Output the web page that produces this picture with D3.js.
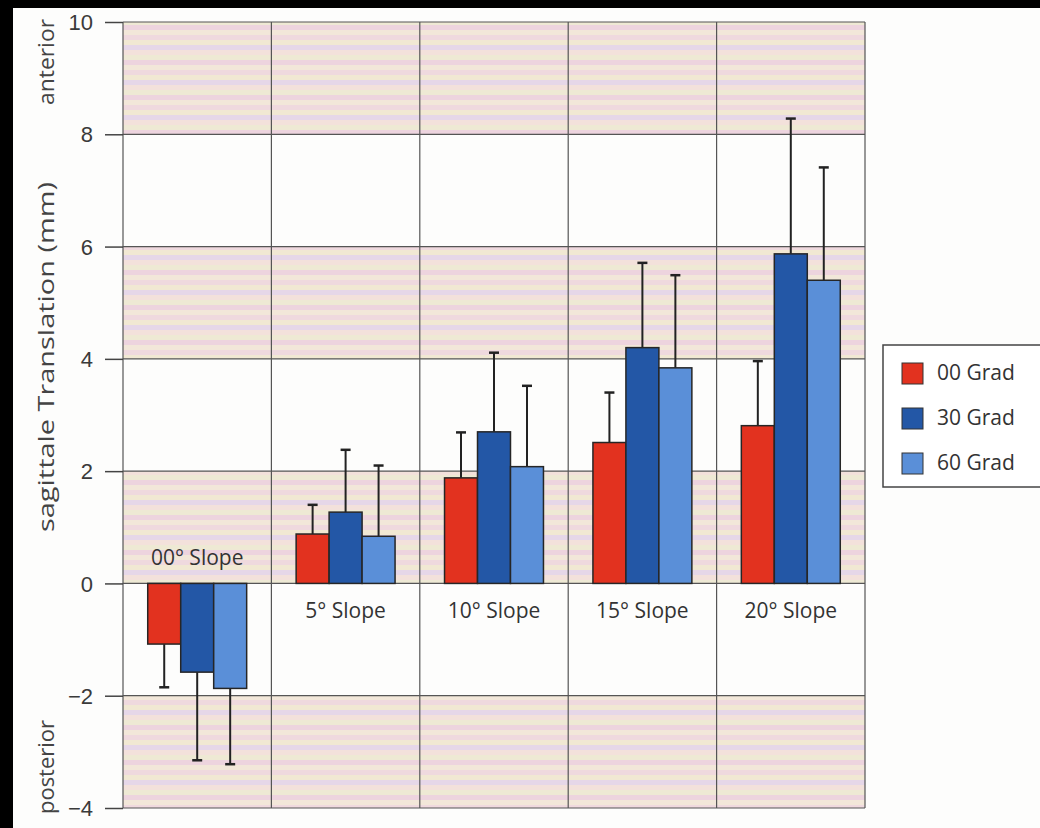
<!DOCTYPE html>
<html>
<head>
<meta charset="utf-8">
<script src="https://cdn.jsdelivr.net/npm/d3@7"></script>
<style>
  body { margin: 0; background: #000; }
  svg { display: block; font-family: "Open Sans", "Noto Sans", sans-serif; }
</style>
</head>
<body>
<svg id="chart" width="1040" height="828"></svg>
<script>
const categories = ["00° Slope", "5° Slope", "10° Slope", "15° Slope", "20° Slope"];
const series = ["00 Grad", "30 Grad", "60 Grad"];
const means = [
  [-1.08, 0.88, 1.88, 2.51, 2.81],
  [-1.58, 1.27, 2.70, 4.20, 5.87],
  [-1.87, 0.84, 2.08, 3.84, 5.40]
];
const errTops = [
  [-1.85, 1.40, 2.69, 3.40, 3.96],
  [-3.15, 2.38, 4.11, 5.71, 8.28],
  [-3.22, 2.10, 3.52, 5.49, 7.41]
];
const yTicks = [-4, -2, 0, 2, 4, 6, 8, 10];
const stripedBands = [[8, 10], [4, 6], [0, 2], [-4, -2]];
const colors = ["#e2321f", "#2357a6", "#5a8fd8"];

const margin = {top: 22, right: 175, bottom: 20, left: 123};
const width = 1040, height = 828;

const svg = d3.select("#chart");

// scanned page: black edge on the top and left
svg.append("rect").attr("width", width).attr("height", height).attr("fill", "#000");
svg.append("rect").attr("x", 13).attr("y", 8).attr("width", width - 13).attr("height", height - 8).attr("fill", "#fdfdfc");

const x0 = d3.scaleBand()
    .domain(categories)
    .range([margin.left, width - margin.right]);
const bw = x0.bandwidth();
const x1 = d3.scaleBand()
    .domain(series)
    .range([bw / 6, bw * 5 / 6]);
const y = d3.scaleLinear()
    .domain([-4, 10])
    .range([808, margin.top]);

// stripe pattern for the shaded bands
const stripeColors = ["#efd9de", "#f1e8d3", "#e6d7e8", "#f3e1db", "#eee9d4", "#edd4de", "#f2e7d9"];
const pat = svg.append("defs").append("pattern")
    .attr("id", "stripes")
    .attr("patternUnits", "userSpaceOnUse")
    .attr("width", 40)
    .attr("height", stripeColors.length * 5);
pat.selectAll("rect").data(stripeColors).enter().append("rect")
    .attr("x", 0).attr("y", (d, i) => i * 5)
    .attr("width", 40).attr("height", 5)
    .attr("fill", d => d);

const plotL = x0.range()[0], plotR = x0.range()[1];

svg.append("g").selectAll("rect")
    .data(stripedBands)
  .enter().append("rect")
    .attr("x", plotL)
    .attr("y", d => y(d[1]))
    .attr("width", plotR - plotL)
    .attr("height", d => y(d[0]) - y(d[1]))
    .attr("fill", "url(#stripes)");

// horizontal grid
svg.append("g").selectAll("line")
    .data(yTicks)
  .enter().append("line")
    .attr("x1", plotL).attr("x2", plotR)
    .attr("y1", d => y(d)).attr("y2", d => y(d))
    .attr("stroke", "#555").attr("stroke-width", 1.2);

// vertical grid
svg.append("g").selectAll("line")
    .data(categories.concat(["end"]))
  .enter().append("line")
    .attr("x1", (d, i) => i < categories.length ? x0(d) : plotR)
    .attr("x2", (d, i) => i < categories.length ? x0(d) : plotR)
    .attr("y1", y(10)).attr("y2", y(-4))
    .attr("stroke", "#555").attr("stroke-width", 1.2);

// y axis
const yAxis = d3.axisLeft(y).tickValues(yTicks).tickSize(18).tickPadding(12)
    .tickFormat(d => d < 0 ? "\u2212" + Math.abs(d) : d);
svg.append("g")
    .attr("transform", `translate(${plotL},0)`)
    .call(yAxis)
    .call(g => g.select(".domain").remove())
    .call(g => g.selectAll(".tick line").attr("stroke", "#444").attr("stroke-width", 1.5))
    .call(g => g.selectAll(".tick text").attr("fill", "#3a3a3a").style("font-size", "22px").attr("dy", "0.35em"));

// bars
const groups = svg.append("g").selectAll("g")
    .data(categories)
  .enter().append("g")
    .attr("transform", d => `translate(${x0(d)},0)`);

groups.selectAll("line.err")
    .data((d, ci) => series.map((s, si) => ({s, si, m: means[si][ci], e: errTops[si][ci]})))
  .enter().append("line")
    .attr("class", "err")
    .attr("x1", d => x1(d.s) + x1.bandwidth() / 2)
    .attr("x2", d => x1(d.s) + x1.bandwidth() / 2)
    .attr("y1", d => y(d.m)).attr("y2", d => y(d.e))
    .attr("stroke", "#222").attr("stroke-width", 2);

groups.selectAll("line.cap")
    .data((d, ci) => series.map((s, si) => ({s, si, e: errTops[si][ci]})))
  .enter().append("line")
    .attr("class", "cap")
    .attr("x1", d => x1(d.s) + x1.bandwidth() / 2 - 5)
    .attr("x2", d => x1(d.s) + x1.bandwidth() / 2 + 5)
    .attr("y1", d => y(d.e)).attr("y2", d => y(d.e))
    .attr("stroke", "#222").attr("stroke-width", 2.5);

groups.selectAll("rect")
    .data((d, ci) => series.map((s, si) => ({s, si, v: means[si][ci]})))
  .enter().append("rect")
    .attr("x", d => x1(d.s))
    .attr("y", d => y(Math.max(0, d.v)))
    .attr("width", x1.bandwidth())
    .attr("height", d => Math.abs(y(d.v) - y(0)))
    .attr("fill", d => colors[d.si])
    .attr("stroke", "#262626").attr("stroke-width", 1.5);

// category labels
svg.append("g").selectAll("text")
    .data(categories)
  .enter().append("text")
    .attr("x", d => x0(d) + bw / 2)
    .attr("y", (d, i) => i === 0 ? y(0) - 18 : y(0) + 35)
    .attr("text-anchor", "middle")
    .attr("fill", "#333")
    .style("font-size", "21px")
    .text(d => d);

// axis titles
const titles = [
  {t: "sagittale Translation (mm)", c: 357, len: 350},
  {t: "anterior", c: 62, len: 86},
  {t: "posterior", c: 767, len: 94}
];
svg.append("g").selectAll("text")
    .data(titles)
  .enter().append("text")
    .attr("transform", d => `translate(54,${d.c}) rotate(-90)`)
    .attr("text-anchor", "middle")
    .attr("fill", "#444")
    .style("font-size", "22px")
    .attr("textLength", d => d.len)
    .attr("lengthAdjust", "spacingAndGlyphs")
    .text(d => d.t);

// legend
const legend = svg.append("g").attr("transform", "translate(883,345)");
legend.append("rect")
    .attr("width", 160).attr("height", 142)
    .attr("fill", "#fff").attr("stroke", "#444").attr("stroke-width", 1.5);
const row = d3.scalePoint().domain(series).range([28, 118]);
legend.selectAll("rect.sw")
    .data(series)
  .enter().append("rect")
    .attr("class", "sw")
    .attr("x", 19).attr("y", d => row(d) - 10)
    .attr("width", 21).attr("height", 21)
    .attr("fill", (d, i) => colors[i])
    .attr("stroke", "#333").attr("stroke-width", 1);
legend.selectAll("text")
    .data(series)
  .enter().append("text")
    .attr("x", 54).attr("y", d => row(d))
    .attr("dy", "0.35em")
    .attr("fill", "#333")
    .style("font-size", "21px")
    .text(d => d);
</script>
</body>
</html>
